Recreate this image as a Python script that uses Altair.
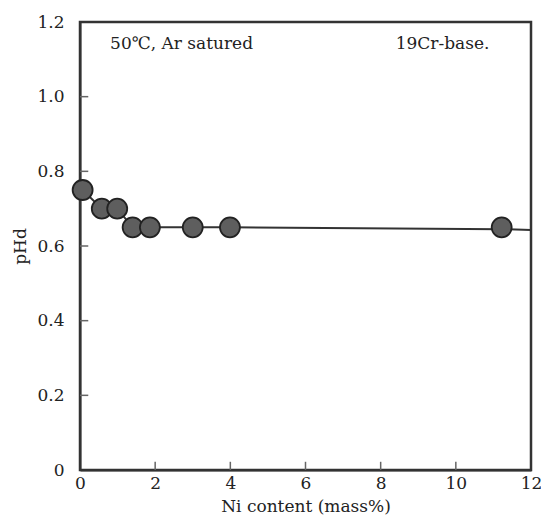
import altair as alt
import pandas as pd

ni = [0.07, 0.58, 0.99, 1.40, 1.86, 3.0, 3.99, 11.22]
phd = [0.75, 0.70, 0.70, 0.65, 0.65, 0.65, 0.65, 0.65]

line_x = [0.07, 0.58, 0.99, 1.40, 1.86, 3.0, 3.99, 11.22, 12.0]
line_y = [0.75, 0.70, 0.70, 0.65, 0.65, 0.65, 0.65, 0.645, 0.643]

xticks = [2, 4, 6, 8, 10]
yticks = [0.2, 0.4, 0.6, 0.8, 1.0]

ann_x = [0.8, 8.4]
ann_y = [1.14, 1.14]
ann_t = ["50℃, Ar satured", "19Cr-base."]

FONT = "DejaVu Serif"
INK = "#333333"

pts = pd.DataFrame({"x": ni, "y": phd})
ln = pd.DataFrame({"x": line_x, "y": line_y})
xt = pd.DataFrame({"x": xticks, "y": [0] * len(xticks), "y2": [0.022] * len(xticks)})
yt = pd.DataFrame({"y": yticks, "x": [0] * len(yticks), "x2": [0.22] * len(yticks)})
ann = pd.DataFrame({"x": ann_x, "y": ann_y, "t": ann_t})

xscale = alt.Scale(domain=[0, 12], nice=False, zero=False)
yscale = alt.Scale(domain=[0, 1.2], nice=False, zero=False)

xaxis = alt.Axis(
    title="Ni content (mass%)", values=[0, 2, 4, 6, 8, 10, 12], grid=False,
    ticks=False, labelPadding=5, titlePadding=7, labelFontSize=17,
    titleFontSize=17, labelFont=FONT, titleFont=FONT, labelColor="#222",
    titleColor="#222", titleFontWeight="normal", domainColor=INK, domainWidth=2,
    labelFlush=False,
)
yaxis = alt.Axis(
    title="pHd", values=[0, 0.2, 0.4, 0.6, 0.8, 1.0, 1.2], grid=False,
    ticks=False, labelPadding=16, titlePadding=7, labelFontSize=17,
    titleFontSize=17, labelFont=FONT, titleFont=FONT, labelColor="#222",
    titleColor="#222", titleFontWeight="normal", domainColor=INK, domainWidth=2,
    labelExpr="datum.value == 0 ? '0' : format(datum.value, '.1f')",
    labelFlush=False,
)

base_line = alt.Chart(ln).mark_line(color=INK, strokeWidth=2).encode(
    x=alt.X("x:Q", scale=xscale, axis=xaxis),
    y=alt.Y("y:Q", scale=yscale, axis=yaxis),
)
points = alt.Chart(pts).mark_point(
    filled=True, size=400, fill="#5e5e5e", stroke="#222222", strokeWidth=1.8, opacity=1
).encode(x=alt.X("x:Q", scale=xscale), y=alt.Y("y:Q", scale=yscale))

xtick = alt.Chart(xt).mark_rule(color="#666", strokeWidth=1.5).encode(
    x=alt.X("x:Q", scale=xscale), y=alt.Y("y:Q", scale=yscale), y2="y2:Q"
)
ytick = alt.Chart(yt).mark_rule(color="#666", strokeWidth=1.5).encode(
    y=alt.Y("y:Q", scale=yscale), x=alt.X("x:Q", scale=xscale), x2="x2:Q"
)
text = alt.Chart(ann).mark_text(
    align="left", baseline="middle", font=FONT, fontSize=17, color="#222"
).encode(x=alt.X("x:Q", scale=xscale), y=alt.Y("y:Q", scale=yscale), text="t:N")

chart = alt.layer(base_line, xtick, ytick, points, text).properties(
    width=451, height=448,
    background="white",
    autosize=alt.AutoSizeParams(type="none"),
    padding={"left": 72, "top": 14, "right": 10, "bottom": 50},
).configure_view(stroke=INK, strokeWidth=2.5)

chart.save("out.html", embed_options={"renderer": "svg", "actions": False})
